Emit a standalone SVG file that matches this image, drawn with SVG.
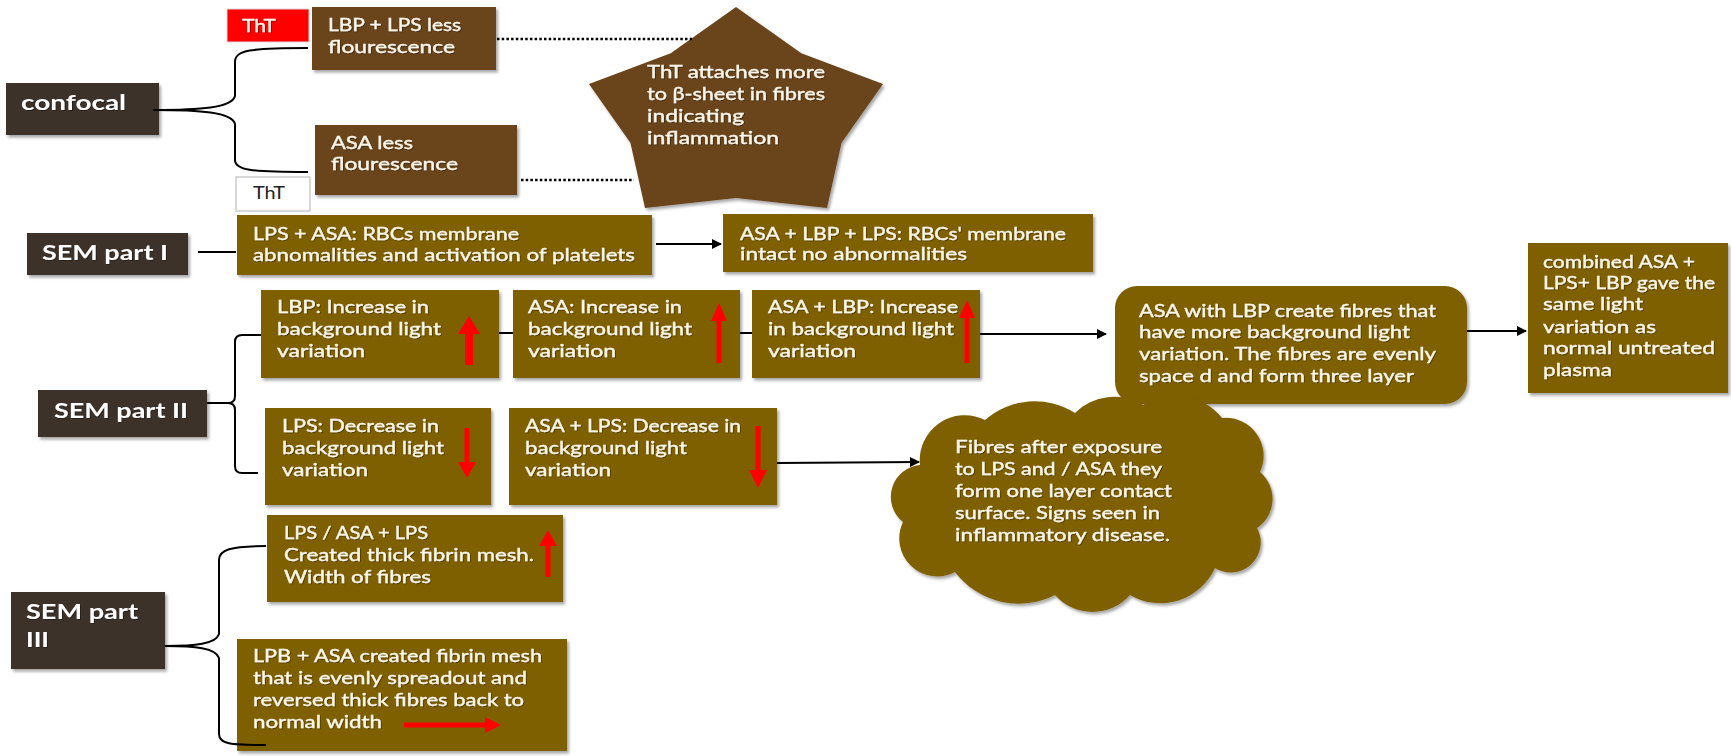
<svg xmlns="http://www.w3.org/2000/svg" width="1731" height="756" viewBox="0 0 1731 756">
  <defs>
    <filter id="shadow" x="-10%" y="-10%" width="130%" height="130%">
      <feDropShadow dx="2" dy="2.5" stdDeviation="1.5" flood-color="#000" flood-opacity="0.35"/>
    </filter>
    <filter id="glow" x="-5%" y="-20%" width="110%" height="150%">
      <feDropShadow dx="0.8" dy="0.8" stdDeviation="0.6" flood-color="#000" flood-opacity="0.45"/>
    </filter>
    <marker id="arrow" viewBox="0 0 10 10" refX="9" refY="5" markerWidth="5" markerHeight="5" orient="auto">
      <path d="M0,0 L10,5 L0,10 Z" fill="#000"/>
    </marker>
  </defs>
  <style>
    .dark { fill: #3e302b; filter: url(#shadow); }
    .brown { fill: #6b451f; filter: url(#shadow); }
    .olive { fill: #7f6000; filter: url(#shadow); }
    .t { font-family: Lato, "Open Sans", "Liberation Sans", sans-serif; font-size: 17px; fill: #fbf6ea; stroke: #fbf6ea; stroke-width: 0.35; filter: url(#glow); }
    .lbl { font-family: Lato, "Open Sans", "Liberation Sans", sans-serif; font-size: 20px; font-weight: bold; fill: #ffffff; filter: url(#glow); }
    .ink { fill: #222222; stroke: none; filter: none; }
    .conn { fill: none; stroke: #000; stroke-width: 2; }
    .dots { fill: none; stroke: #000; stroke-width: 2.5; stroke-dasharray: 2.5 2.2; }
    .up { fill: #ff0000; }
  </style>
  <rect width="1731" height="756" fill="#ffffff"/>

  <!-- confocal branch -->
  <g id="confocal">
    <rect class="dark" x="6" y="83" width="153" height="52"/>
    <text class="lbl" x="21" y="110" textLength="105" lengthAdjust="spacingAndGlyphs">confocal</text>
  </g>
  <g id="tht-red">
    <rect x="227" y="9" width="82" height="33" fill="#ff0000" stroke="#d9d9d9" stroke-width="1"/>
    <text class="t" x="242" y="32" font-size="15" textLength="34" lengthAdjust="spacingAndGlyphs">ThT</text>
  </g>
  <g id="lbp-lps-fluor">
    <rect class="brown" x="312" y="7" width="184" height="63"/>
    <text class="t" x="328" y="31" textLength="133" lengthAdjust="spacingAndGlyphs">LBP + LPS less</text>
    <text class="t" x="328" y="53" textLength="127" lengthAdjust="spacingAndGlyphs">flourescence</text>
  </g>
  <g id="asa-fluor">
    <rect class="brown" x="315" y="125" width="202" height="70"/>
    <text class="t" x="331" y="149" textLength="82" lengthAdjust="spacingAndGlyphs">ASA less</text>
    <text class="t" x="331" y="170" textLength="127" lengthAdjust="spacingAndGlyphs">flourescence</text>
  </g>
  <g id="tht-white">
    <rect x="236" y="177" width="74" height="34" fill="#ffffff" stroke="#bfbfbf" stroke-width="1.2"/>
    <text class="t ink" x="253" y="199" font-size="15" textLength="32" lengthAdjust="spacingAndGlyphs">ThT</text>
  </g>
  <g id="tht-star">
    <polygon class="brown" points="736,7 801.3,53.3 883,84 841.6,142.7 827,208 736,198 645,208 630.4,142.7 589,84 670.7,53.3"/>
    <text class="t" x="647" y="78" textLength="178" lengthAdjust="spacingAndGlyphs">ThT attaches more</text>
    <text class="t" x="647" y="100" textLength="178" lengthAdjust="spacingAndGlyphs">to β-sheet in fibres</text>
    <text class="t" x="647" y="122" textLength="97" lengthAdjust="spacingAndGlyphs">indicating</text>
    <text class="t" x="647" y="144" textLength="132" lengthAdjust="spacingAndGlyphs">inflammation</text>
  </g>

  <!-- SEM part I -->
  <g id="sem1">
    <rect class="dark" x="27" y="233" width="161" height="42"/>
    <text class="lbl" x="42" y="260" textLength="126" lengthAdjust="spacingAndGlyphs">SEM part I</text>
  </g>
  <g id="lps-asa-rbc">
    <rect class="olive" x="237" y="215" width="415" height="60"/>
    <text class="t" x="253" y="240" textLength="266" lengthAdjust="spacingAndGlyphs">LPS + ASA: RBCs membrane</text>
    <text class="t" x="253" y="261" textLength="382" lengthAdjust="spacingAndGlyphs">abnomalities and activation of platelets</text>
  </g>
  <g id="all-rbc">
    <rect class="olive" x="723" y="214" width="370" height="58"/>
    <text class="t" x="740" y="240" textLength="326" lengthAdjust="spacingAndGlyphs">ASA + LBP + LPS: RBCs' membrane</text>
    <text class="t" x="740" y="260" textLength="227" lengthAdjust="spacingAndGlyphs">intact no abnormalities</text>
  </g>

  <!-- SEM part II -->
  <g id="sem2">
    <rect class="dark" x="38" y="390" width="169" height="47"/>
    <text class="lbl" x="54" y="418" textLength="134" lengthAdjust="spacingAndGlyphs">SEM part II</text>
  </g>
  <g id="lbp-increase">
    <rect class="olive" x="261" y="290" width="238" height="88"/>
    <text class="t" x="277" y="313" textLength="152" lengthAdjust="spacingAndGlyphs">LBP: Increase in</text>
    <text class="t" x="277" y="335" textLength="164" lengthAdjust="spacingAndGlyphs">background light</text>
    <text class="t" x="277" y="357" textLength="88" lengthAdjust="spacingAndGlyphs">variation</text>
    <polygon class="up" points="465,365 473,365 473,334 480,334 469,316 458,334 465,334"/>
  </g>
  <g id="asa-increase">
    <rect class="olive" x="513" y="290" width="227" height="88"/>
    <text class="t" x="528" y="313" textLength="154" lengthAdjust="spacingAndGlyphs">ASA: Increase in</text>
    <text class="t" x="528" y="335" textLength="164" lengthAdjust="spacingAndGlyphs">background light</text>
    <text class="t" x="528" y="357" textLength="88" lengthAdjust="spacingAndGlyphs">variation</text>
    <polygon class="up" points="716.5,363 721.5,363 721.5,321 727,321 719,303 711,321 716.5,321"/>
  </g>
  <g id="asa-lbp-increase">
    <rect class="olive" x="752" y="290" width="228" height="88"/>
    <text class="t" x="768" y="313" textLength="190" lengthAdjust="spacingAndGlyphs">ASA + LBP: Increase</text>
    <text class="t" x="768" y="335" textLength="186" lengthAdjust="spacingAndGlyphs">in background light</text>
    <text class="t" x="768" y="357" textLength="88" lengthAdjust="spacingAndGlyphs">variation</text>
    <polygon class="up" points="964.5,363 969.5,363 969.5,318 975,318 967,300 959,318 964.5,318"/>
  </g>
  <g id="lps-decrease">
    <rect class="olive" x="265" y="408" width="226" height="97"/>
    <text class="t" x="282" y="432" textLength="157" lengthAdjust="spacingAndGlyphs">LPS: Decrease in</text>
    <text class="t" x="282" y="454" textLength="162" lengthAdjust="spacingAndGlyphs">background light</text>
    <text class="t" x="282" y="476" textLength="86" lengthAdjust="spacingAndGlyphs">variation</text>
    <polygon class="up" points="464.5,428 469.5,428 469.5,462 476,462 467,478 458,462 464.5,462"/>
  </g>
  <g id="asa-lps-decrease">
    <rect class="olive" x="509" y="408" width="268" height="97"/>
    <text class="t" x="525" y="432" textLength="216" lengthAdjust="spacingAndGlyphs">ASA + LPS: Decrease in</text>
    <text class="t" x="525" y="454" textLength="162" lengthAdjust="spacingAndGlyphs">background light</text>
    <text class="t" x="525" y="476" textLength="86" lengthAdjust="spacingAndGlyphs">variation</text>
    <polygon class="up" points="755.5,426 760.5,426 760.5,470 767,470 758,488 749,470 755.5,470"/>
  </g>
  <g id="asa-lbp-fibres">
    <rect class="olive" x="1115" y="286" width="352" height="118" rx="22" ry="22"/>
    <text class="t" x="1139" y="317" textLength="297" lengthAdjust="spacingAndGlyphs">ASA with LBP create fibres that</text>
    <text class="t" x="1139" y="338" textLength="271" lengthAdjust="spacingAndGlyphs">have more background light</text>
    <text class="t" x="1139" y="360" textLength="297" lengthAdjust="spacingAndGlyphs">variation. The fibres are evenly</text>
    <text class="t" x="1139" y="382" textLength="275" lengthAdjust="spacingAndGlyphs">space d and form three layer</text>
  </g>
  <g id="combined">
    <rect class="olive" x="1528" y="243" width="200" height="150"/>
    <text class="t" x="1543" y="268" textLength="152" lengthAdjust="spacingAndGlyphs">combined ASA +</text>
    <text class="t" x="1543" y="289" textLength="172" lengthAdjust="spacingAndGlyphs">LPS+ LBP gave the</text>
    <text class="t" x="1543" y="310" textLength="100" lengthAdjust="spacingAndGlyphs">same light</text>
    <text class="t" x="1543" y="333" textLength="113" lengthAdjust="spacingAndGlyphs">variation as</text>
    <text class="t" x="1543" y="354" textLength="172" lengthAdjust="spacingAndGlyphs">normal untreated</text>
    <text class="t" x="1543" y="376" textLength="69" lengthAdjust="spacingAndGlyphs">plasma</text>
  </g>
  <g id="one-layer-cloud">
    <path class="olive" d="M920,465 A45,45 0 0 1 985,420 A75,75 0 0 1 1075,413 A55,55 0 0 1 1143,405 A60,60 0 0 1 1222,418 A38,38 0 0 1 1260,472 A35,35 0 0 1 1257,528 A30,30 0 0 1 1215,568 A60,60 0 0 1 1130,595 A50,50 0 0 1 1055,595 A80,80 0 0 1 955,572 A38,38 0 0 1 903,522 A32,32 0 0 1 920,465 Z"/>
    <text class="t" x="955" y="453" textLength="207" lengthAdjust="spacingAndGlyphs">Fibres after exposure</text>
    <text class="t" x="955" y="475" textLength="207" lengthAdjust="spacingAndGlyphs">to LPS and / ASA they</text>
    <text class="t" x="955" y="497" textLength="217" lengthAdjust="spacingAndGlyphs">form one layer contact</text>
    <text class="t" x="955" y="519" textLength="205" lengthAdjust="spacingAndGlyphs">surface. Signs seen in</text>
    <text class="t" x="955" y="541" textLength="215" lengthAdjust="spacingAndGlyphs">inflammatory disease.</text>
  </g>

  <!-- SEM part III -->
  <g id="sem3">
    <rect class="dark" x="11" y="592" width="154" height="77"/>
    <text class="lbl" x="26" y="619" textLength="112" lengthAdjust="spacingAndGlyphs">SEM part</text>
    <text class="lbl" x="26" y="647" textLength="23" lengthAdjust="spacingAndGlyphs">III</text>
  </g>
  <g id="thick-mesh">
    <rect class="olive" x="267" y="515" width="296" height="87"/>
    <text class="t" x="284" y="539" textLength="144" lengthAdjust="spacingAndGlyphs">LPS / ASA + LPS</text>
    <text class="t" x="284" y="561" textLength="250" lengthAdjust="spacingAndGlyphs">Created thick fibrin mesh.</text>
    <text class="t" x="284" y="583" textLength="147" lengthAdjust="spacingAndGlyphs">Width of fibres</text>
    <polygon class="up" points="545.5,577 550.5,577 550.5,546 557,546 548,530 539,546 545.5,546"/>
  </g>
  <g id="normal-width">
    <rect class="olive" x="237" y="639" width="330" height="112"/>
    <text class="t" x="253" y="662" textLength="289" lengthAdjust="spacingAndGlyphs">LPB + ASA created fibrin mesh</text>
    <text class="t" x="253" y="684" textLength="274" lengthAdjust="spacingAndGlyphs">that is evenly spreadout and</text>
    <text class="t" x="253" y="706" textLength="271" lengthAdjust="spacingAndGlyphs">reversed thick fibres back to</text>
    <text class="t" x="253" y="728" textLength="129" lengthAdjust="spacingAndGlyphs">normal width</text>
    <polygon class="up" points="404,722.5 485,722.5 485,717 501,725 485,733 485,727.5 404,727.5"/>
  </g>

  <!-- connectors -->
  <g id="connectors">
    <path class="conn" d="M153,110 C200,110 232,108 235,96 L235,62 C235,50 250,48 308,48"/>
    <path class="conn" d="M153,110 C200,110 232,112 235,124 L235,160 C235,170 250,172 308,172"/>
    <line class="dots" x1="497" y1="39" x2="692" y2="39"/>
    <line class="dots" x1="521" y1="180" x2="634" y2="180"/>
    <line class="conn" x1="198" y1="252" x2="236" y2="252"/>
    <line class="conn" x1="656" y1="244" x2="721" y2="244" marker-end="url(#arrow)"/>
    <path class="conn" d="M261,335 L242,335 Q235,335 235,342 L235,396 Q235,403 228,403 L207,403 M228,403 Q235,403 235,410 L235,466 Q235,473 242,473 L258,473"/>
    <line class="conn" x1="499" y1="333" x2="513" y2="333"/>
    <line class="conn" x1="740" y1="333" x2="752" y2="333"/>
    <line class="conn" x1="980" y1="334" x2="1106" y2="334" marker-end="url(#arrow)"/>
    <line class="conn" x1="1467" y1="331" x2="1526" y2="331" marker-end="url(#arrow)"/>
    <line class="conn" x1="777" y1="463" x2="919" y2="462" marker-end="url(#arrow)"/>
    <path class="conn" d="M165,646 C195,646 216,644 219,634 L219,560 C219,550 230,546 266,546"/>
    <path class="conn" d="M165,646 C195,646 216,648 219,658 L219,734 C219,744 230,745 266,745"/>
  </g>
</svg>
